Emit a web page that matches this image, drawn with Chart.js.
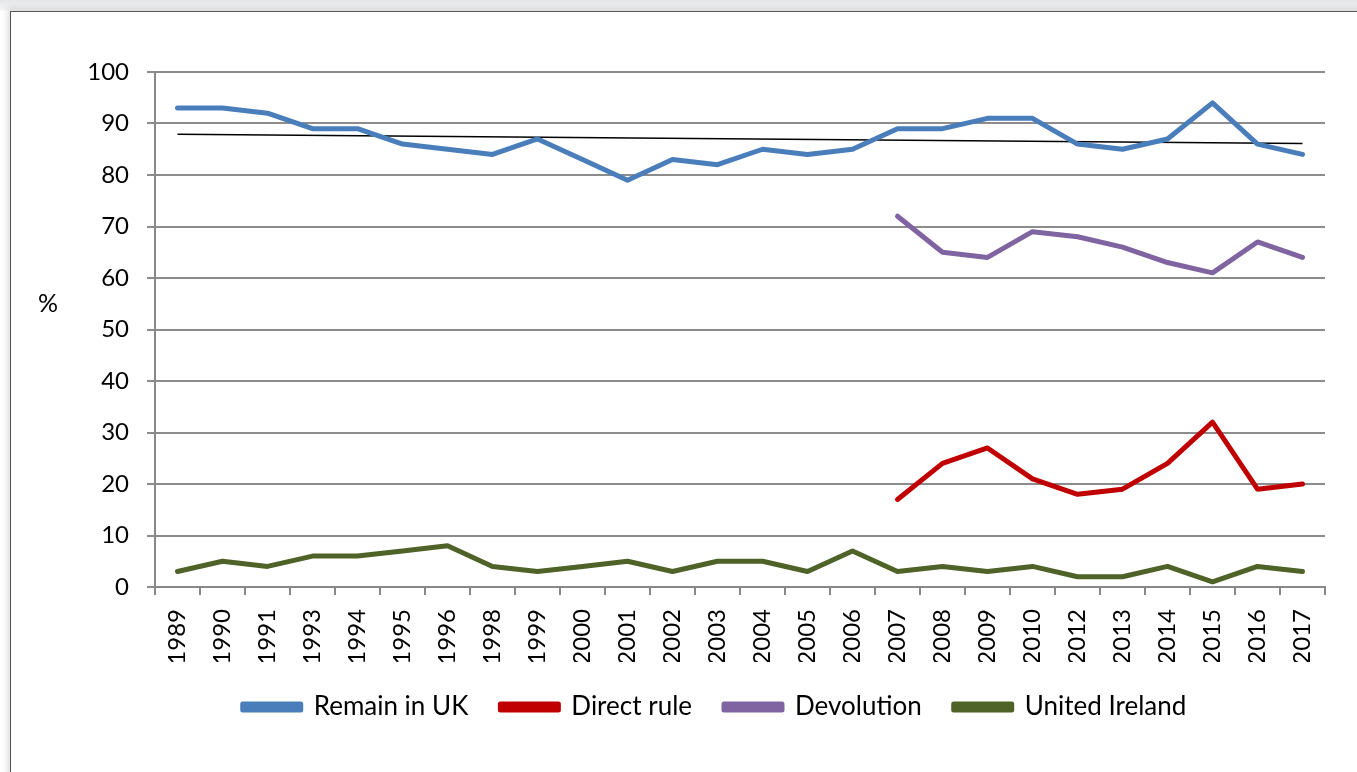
<!DOCTYPE html>
<html>
<head>
<meta charset="utf-8">
<script src="https://cdn.jsdelivr.net/npm/chart.js@4.4.1/dist/chart.umd.min.js"></script>
<style>
  html, body { margin: 0; padding: 0; background: #fff; }
  body { width: 1357px; height: 772px; overflow: hidden; position: relative;
         background: linear-gradient(#e4e6e9, #f3f4f5 10px, #fff 11px); }
  #frame { position: absolute; left: 10px; top: 11px; width: 1400px; height: 800px;
           border: 1px solid #555; background: #fff; box-shadow: -3px -3px 6px rgba(0,0,0,0.12); }
  #wrap { position: absolute; left: 0; top: 0; width: 1357px; height: 772px; }
</style>
</head>
<body>
<div id="frame"></div>
<div id="wrap"><canvas id="chart" width="1357" height="772"></canvas></div>
<script>
const years = ['1989','1990','1991','1993','1994','1995','1996','1998','1999','2000','2001','2002','2003',
               '2004','2005','2006','2007','2008','2009','2010','2012','2013','2014','2015','2016','2017'];
const remainUK = [93,93,92,89,89,86,85,84,87,83,79,83,82,85,84,85,89,89,91,91,86,85,87,94,86,84];
const directRule = [null,null,null,null,null,null,null,null,null,null,null,null,null,null,null,null,
                    17,24,27,21,18,19,24,32,19,20];
const devolution = [null,null,null,null,null,null,null,null,null,null,null,null,null,null,null,null,
                    72,65,64,69,68,66,63,61,67,64];
const unitedIreland = [3,5,4,6,6,7,8,4,3,4,5,3,5,5,3,7,3,4,3,4,2,2,4,1,4,3];
// trend line endpoints
const trend = [87.9,null,null,null,null,null,null,null,null,null,null,null,null,
               null,null,null,null,null,null,null,null,null,null,null,null,86.1];
const yTicks = [0,10,20,30,40,50,60,70,80,90,100];

const FONT = 'Lato, "Noto Sans", sans-serif';

const pctLabel = {
    id: 'pctLabel',
    afterDraw(chart) {
        const c = chart.ctx;
        const y = chart.scales.y.getPixelForValue(55);
        c.save();
        c.font = '25px ' + FONT;
        c.fillStyle = '#000';
        c.textAlign = 'center';
        c.textBaseline = 'middle';
        c.fillText('%', 48, y);
        c.restore();
    }
};

// nudge the legend to the right, where the original sits
const legendShift = {
    id: 'legendShift',
    afterLayout(chart) {
        chart.legend.left += 52;
        chart.legend.right += 52;
    }
};

function line(label, data, color) {
    return { label, data, borderColor: color, backgroundColor: color, borderWidth: 5,
             pointRadius: 0, tension: 0, borderCapStyle: 'round', borderJoinStyle: 'round' };
}

new Chart(document.getElementById('chart').getContext('2d'), {
    type: 'line',
    data: {
        labels: years,
        datasets: [
            line('Remain in UK', remainUK, '#4a7ebb'),
            line('Direct rule', directRule, '#c00000'),
            line('Devolution', devolution, '#8064a2'),
            line('United Ireland', unitedIreland, '#4f6228'),
            { label: 'trend', data: trend, borderColor: '#000', borderWidth: 1.5, pointRadius: 0,
              spanGaps: true, tension: 0 }
        ]
    },
    options: {
        responsive: false,
        animation: false,
        layout: { padding: { top: 72, right: 32, left: 0, bottom: 42 } },
        plugins: {
            tooltip: { enabled: false },
            legend: {
                position: 'bottom',
                labels: {
                    filter: item => item.text !== 'trend',
                    boxWidth: 58, boxHeight: 6, padding: 32,
                    color: '#000', font: { family: FONT, size: 26 }
                }
            }
        },
        scales: {
            x: {
                offset: true,
                grid: { offset: true, drawOnChartArea: false, drawTicks: true, tickLength: 8,
                        color: '#888', lineWidth: 2 },
                border: { color: '#888', width: 2 },
                ticks: { color: '#000', font: { family: FONT, size: 24 }, minRotation: 90, maxRotation: 90,
                         autoSkip: false, padding: 14 },
                afterFit(scale) { scale.height = 75; }
            },
            y: {
                min: 0, max: 100,
                afterBuildTicks(scale) { scale.ticks = yTicks.map(v => ({ value: v })); },
                grid: { color: '#8c8c8c', lineWidth: 2, tickLength: 8 },
                border: { color: '#888', width: 2 },
                ticks: { color: '#000', font: { family: FONT, size: 24 }, padding: 18 },
                afterFit(scale) { scale.width = 155; }
            }
        }
    },
    plugins: [pctLabel, legendShift]
});
</script>
</body>
</html>
